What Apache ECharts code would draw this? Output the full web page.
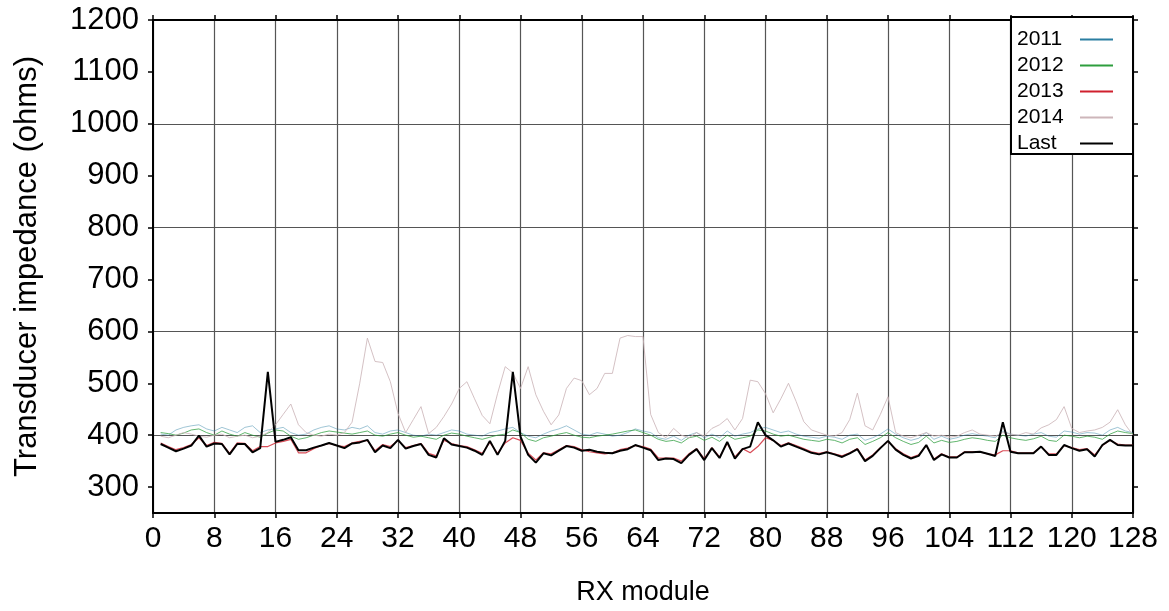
<!DOCTYPE html>
<html>
<head>
<meta charset="utf-8">
<script src="https://cdn.jsdelivr.net/npm/echarts@6/dist/echarts.min.js"></script>
<style>
html,body{margin:0;padding:0;background:#fff;}
#chart{width:1169px;height:611px;}
</style>
</head>
<body>
<div id="chart"></div>
<script>
// RX module numbers 1..128
const modules = [];
for (let i = 1; i <= 128; i++) modules.push(i);

const xTicks = [0, 8, 16, 24, 32, 40, 48, 56, 64, 72, 80, 88, 96, 104, 112, 120, 128];
const yTicks = [300, 400, 500, 600, 700, 800, 900, 1000, 1100, 1200];

const y2011 = [
  402, 400, 410, 415, 418, 420, 412, 408,
  415, 410, 405, 415, 418, 405, 410, 412,
  415, 405, 400, 402, 410, 415, 418, 412,
  410, 415, 412, 418, 405, 402, 408, 410,
  405, 400, 398, 402, 400, 405, 410, 408,
  402, 400, 398, 405, 408, 412, 415, 405,
  398, 395, 402, 408, 412, 418, 410, 402,
  400, 405, 402, 398, 400, 405, 412, 408,
  405, 395, 392, 398, 390, 400, 405, 395,
  402, 395, 408, 398, 402, 405, 412, 415,
  410, 405, 408, 402, 398, 396, 394, 398,
  396, 392, 400, 402, 390, 395, 402, 412,
  402, 395, 390, 394, 405, 392, 398, 392,
  395, 400, 403, 400, 398, 395, 408, 402,
  400, 398, 402, 405, 398, 396, 408, 406,
  402, 405, 404, 400, 410, 415, 408, 405
];

const y2012 = [
  405, 403, 400, 404, 410, 412, 405, 400,
  408, 402, 398, 405, 400, 396, 404, 410,
  408, 398, 392, 395, 400, 405, 408, 406,
  404, 402, 405, 408, 400, 398, 402, 405,
  400, 396, 398, 395, 392, 400, 404, 402,
  398, 395, 392, 396, 400, 402, 410, 405,
  392, 388, 395, 398, 402, 405, 400, 396,
  395, 398, 400, 402, 405, 408, 410, 405,
  400, 392, 388, 390, 385, 395, 398, 390,
  396, 388, 400, 392, 395, 398, 410, 408,
  402, 398, 400, 396, 392, 390, 388, 392,
  390, 385, 392, 395, 382, 388, 395, 405,
  395, 388, 382, 386, 398, 385, 390, 386,
  388, 392, 395, 393, 390, 388, 400, 395,
  392, 390, 393, 398, 390, 388, 400, 398,
  395, 398, 396, 392, 402, 408, 405, 403
];

const y2013 = [
  385, 378, 372, 376, 382, 395, 380, 386,
  384, 365, 385, 384, 370, 378, 378, 385,
  388, 392, 366, 366, 374, 380, 384, 380,
  378, 385, 388, 390, 370, 382, 378, 390,
  376, 380, 384, 365, 360, 390, 384, 380,
  378, 372, 365, 386, 365, 385, 395, 390,
  365, 352, 366, 364, 372, 380, 378, 372,
  368, 366, 364, 366, 372, 375, 380, 378,
  373, 356, 356, 356, 350, 364, 374, 355,
  376, 358, 384, 358, 374, 366, 378, 395,
  390, 380, 385, 380, 374, 368, 365, 368,
  364, 360, 366, 374, 352, 362, 376, 388,
  374, 364, 357, 362, 380, 354, 364, 358,
  358, 368, 368, 368, 364, 362, 370, 370,
  366, 366, 366, 378, 364, 364, 380, 376,
  372, 374, 362, 380, 390, 383, 381, 381
];

const y2014 = [
  398, 395, 400, 405, 402, 398, 396, 400,
  402, 395, 398, 400, 395, 398, 405, 420,
  440, 460, 420, 405, 400, 398, 402, 400,
  405, 425, 500, 587, 542, 540, 503, 442,
  405, 430, 455, 403, 415, 436, 460, 490,
  503, 470, 438, 422, 480, 532, 520, 490,
  532, 478, 446, 420, 439, 490, 510, 505,
  478, 490, 519, 519, 587, 592, 590, 590,
  440, 405, 395, 413, 400, 395, 405, 398,
  413, 420, 432, 410, 432, 506, 503, 480,
  443, 470, 500, 465, 426, 410, 405, 400,
  398, 405, 430, 481, 418, 410, 440, 474,
  405, 398, 395, 400, 405, 398, 400, 396,
  398, 405, 410, 402, 400, 398, 405, 402,
  400, 405, 402, 414, 420, 430, 455, 413,
  405, 408, 410, 415, 425, 449, 420, 400
];

const yLast = [
  383, 376, 369, 374, 380, 399, 378, 384,
  383, 363, 383, 383, 367, 375, 522, 387,
  391, 396, 371, 371, 376, 380, 385, 380,
  375, 384, 386, 391, 367, 380, 375, 391,
  374, 379, 383, 362, 357, 394, 382, 379,
  376, 370, 362, 389, 362, 389, 522, 397,
  362, 347, 365, 361, 370, 379, 376, 370,
  372, 368, 366, 365, 370, 373, 381, 376,
  371, 352, 355, 354, 346, 362, 373, 352,
  375, 356, 387, 355, 373, 378, 425, 400,
  390, 378, 384, 378, 372, 366, 363, 367,
  363, 358, 365, 373, 350, 360, 375, 389,
  372, 362, 355, 360, 381, 352, 363, 357,
  357, 367, 367, 368, 364, 360, 425, 368,
  365, 365, 365, 378, 362, 362, 381, 375,
  370, 373, 359, 381, 391, 381, 380, 380
];

const seriesNames = ['2011', '2012', '2013', '2014', 'Last'];
const seriesData = [y2011, y2012, y2013, y2014, yLast];
const colors = ['#2b7ea1', '#2e9e3e', '#d0202e', '#cdb6ba', '#000000'];
const opac = [0.45, 0.75, 0.8, 0.85, 1];
const widths = [1, 1, 1.2, 1, 2];

const font = 'Liberation Sans, Arial, Helvetica, sans-serif';

const chart = echarts.init(document.getElementById('chart'), null, {renderer: 'canvas'});

const series = seriesNames.map((name, k) => ({
  name: name,
  type: 'line',
  symbol: 'none',
  animation: false,
  data: modules.map((m, i) => [m, seriesData[k][i]]),
  lineStyle: {color: colors[k], width: widths[k], opacity: opac[k]},
  itemStyle: {color: colors[k]},
  z: 3 + k
}));

chart.setOption({
  backgroundColor: '#ffffff',
  animation: false,
  grid: {left: 153, right: 36, top: 20, bottom: 98, containLabel: false},
  legend: {
    orient: 'vertical',
    right: 36,
    top: 17,
    align: 'right',
    icon: 'rect',
    itemWidth: 33,
    itemHeight: 2,
    itemGap: 5,
    padding: [12, 20, 0, 6],
    backgroundColor: '#ffffff',
    borderColor: '#000',
    borderWidth: 2,
    borderRadius: 0,
    itemStyle: {opacity: 1},
    lineStyle: {opacity: 1},
    formatter: '{a|{name}}',
    textStyle: {
      fontFamily: font, fontSize: 21, color: '#000',
      rich: {a: {fontFamily: font, fontSize: 21, color: '#000', width: 58, align: 'left'}}
    },
    data: seriesNames
  },
  xAxis: [{
    type: 'value',
    min: 0, max: 128, interval: 8,
    position: 'bottom',
    name: 'RX module',
    nameLocation: 'middle',
    nameGap: 66,
    nameTextStyle: {fontFamily: font, fontSize: 27, color: '#000'},
    axisLine: {show: true, onZero: false, lineStyle: {color: '#000', width: 2}},
    axisTick: {show: true, length: 5, inside: false, lineStyle: {color: '#000', width: 1.5}},
    axisLabel: {fontFamily: font, fontSize: 30, color: '#000', margin: 11},
    splitLine: {show: true, lineStyle: {color: '#555', width: 1.2}}
  }, {
    type: 'value',
    min: 0, max: 128, interval: 8,
    position: 'top',
    axisLine: {show: true, onZero: false, lineStyle: {color: '#000', width: 2}},
    axisTick: {show: true, length: 5, lineStyle: {color: '#000', width: 1.5}},
    axisLabel: {show: false},
    splitLine: {show: false}
  }],
  yAxis: [{
    type: 'value',
    min: 250, max: 1200, interval: 50,
    position: 'left',
    name: 'Transducer impedance (ohms)',
    nameLocation: 'middle',
    nameGap: 110,
    nameTextStyle: {fontFamily: font, fontSize: 31, color: '#000'},
    axisLine: {show: true, onZero: false, lineStyle: {color: '#000', width: 2}},
    axisTick: {show: true, length: 5, customValues: yTicks, lineStyle: {color: '#000', width: 1.5}},
    axisLabel: {
      fontFamily: font, fontSize: 31, color: '#000', margin: 14,
      formatter: v => (v % 100 === 0 ? String(v) : '')
    },
    splitLine: {show: true, lineStyle: {color: ['rgba(0,0,0,0)', '#555'], width: 1.2}}
  }, {
    type: 'value',
    min: 250, max: 1200, interval: 50,
    position: 'right',
    axisLine: {show: true, onZero: false, lineStyle: {color: '#000', width: 2}},
    axisTick: {show: true, length: 5, customValues: yTicks, lineStyle: {color: '#000', width: 1.5}},
    axisLabel: {show: false},
    splitLine: {show: false}
  }],
  series: series
});
</script>
</body>
</html>
